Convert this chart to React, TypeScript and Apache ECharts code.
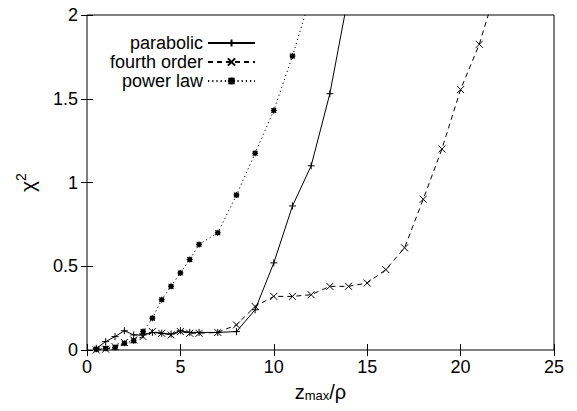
import React, { useEffect, useRef } from "react";
import * as echarts from "echarts";

const parabolicX = [0.5, 1, 1.5, 2, 2.5, 3, 3.5, 4, 4.5, 5, 5.5, 6, 7, 8, 9, 10, 11, 12, 13, 14];
const parabolicY = [0.01, 0.05, 0.08, 0.115, 0.09, 0.09, 0.105, 0.1, 0.095, 0.115, 0.105, 0.105, 0.105, 0.11, 0.24, 0.52, 0.86, 1.1, 1.53, 2.12];

const fourthX = [0.5, 1, 1.5, 2, 2.5, 3, 3.5, 4, 4.5, 5, 5.5, 6, 7, 8, 9, 10, 11, 12, 13, 14, 15, 16, 17, 18, 19, 20, 21, 22];
const fourthY = [0.0, 0.005, 0.02, 0.045, 0.06, 0.08, 0.11, 0.1, 0.09, 0.11, 0.1, 0.1, 0.105, 0.15, 0.26, 0.32, 0.32, 0.33, 0.38, 0.38, 0.4, 0.48, 0.61, 0.9, 1.2, 1.555, 1.825, 2.19];

const powerX = [0.5, 1, 1.5, 2, 2.5, 3, 3.5, 4, 4.5, 5, 5.5, 6, 7, 8, 9, 10, 11, 12];
const powerY = [0.005, 0.01, 0.015, 0.04, 0.055, 0.11, 0.19, 0.3, 0.38, 0.46, 0.54, 0.63, 0.7, 0.925, 1.175, 1.43, 1.755, 2.12];

const seriesNames = ["parabolic", "fourth order", "power law"];
const xTicks = { min: 0, max: 25, interval: 5 };
const yTicks = { min: 0, max: 2, interval: 0.5 };

const zip = (xs: number[], ys: number[]) => xs.map((x, i) => [x, ys[i]]);

const FONT = "Liberation Sans, Arial, Helvetica, sans-serif";

export default function App() {
  const ref = useRef<HTMLDivElement>(null);
  useEffect(() => {
    if (!ref.current) return;
    const chart = echarts.init(ref.current, null, { renderer: "svg" });
    const tickStyle = { inside: true, length: 6, lineStyle: { color: "#000", width: 1 } };
    const mirrorX = {
      type: "value",
      ...xTicks,
      position: "top",
      axisLine: { show: false },
      axisTick: tickStyle,
      axisLabel: { show: false },
      splitLine: { show: false },
    };
    const mirrorY = {
      type: "value",
      ...yTicks,
      position: "right",
      axisLine: { show: false },
      axisTick: tickStyle,
      axisLabel: { show: false },
      splitLine: { show: false },
    };
    const common = {
      type: "line",
      xAxisIndex: 0,
      yAxisIndex: 0,
      symbolSize: 7,
      showAllSymbol: true,
      clip: true,
      itemStyle: { color: "#000", borderColor: "#000", borderWidth: 1 },
    };
    chart.setOption({
      animation: false,
      backgroundColor: "#fff",
      textStyle: { fontFamily: FONT },
      grid: {
        left: 87,
        right: 23,
        top: 15,
        bottom: 61,
        show: true,
        borderColor: "#000",
        borderWidth: 1,
        backgroundColor: "transparent",
      },
      legend: {
        orient: "vertical",
        right: 321,
        top: 34,
        align: "right",
        padding: 0,
        itemWidth: 47,
        itemHeight: 9,
        itemGap: 1,
        textStyle: { fontSize: 18, color: "#000", fontFamily: FONT, lineHeight: 17 },
        data: seriesNames,
      },
      xAxis: [
        {
          type: "value",
          ...xTicks,
          position: "bottom",
          axisLine: { show: false },
          axisTick: tickStyle,
          axisLabel: { fontSize: 18, color: "#000", margin: 8, fontFamily: FONT },
          splitLine: { show: false },
          name: "{a|z}{b|max}{a|/ρ}",
          nameLocation: "middle",
          nameGap: 32,
          nameMoveOverlap: false,
          nameTextStyle: {
            rich: {
              a: { fontSize: 20, color: "#000", fontFamily: FONT, lineHeight: 20, verticalAlign: "top" },
              b: { fontSize: 13, color: "#000", fontFamily: FONT, lineHeight: 18, padding: [6, 0, 0, 0], verticalAlign: "bottom" },
            },
          },
        },
        mirrorX,
      ],
      yAxis: [
        {
          type: "value",
          ...yTicks,
          position: "left",
          axisLine: { show: false },
          axisTick: tickStyle,
          axisLabel: {
            fontSize: 18,
            color: "#000",
            margin: 9,
            fontFamily: FONT,
            formatter: (v: number) => String(v),
          },
          splitLine: { show: false },
          name: "{a|χ}{b|2}",
          nameLocation: "middle",
          nameRotate: 90,
          nameGap: 49,
          nameMoveOverlap: false,
          nameTextStyle: {
            rich: {
              a: { fontSize: 21, color: "#000", fontFamily: FONT, lineHeight: 24, verticalAlign: "bottom" },
              b: { fontSize: 14, color: "#000", fontFamily: FONT, lineHeight: 16, padding: [0, 0, 8, 0], verticalAlign: "top" },
            },
          },
        },
        mirrorY,
      ],
      series: [
        {
          ...common,
          name: seriesNames[0],
          symbol: "path://M0,5L10,5M5,0L5,10",
          lineStyle: { color: "#000", width: 1, type: "solid" },
          data: zip(parabolicX, parabolicY),
        },
        {
          ...common,
          name: seriesNames[1],
          symbol: "path://M0,0L10,10M10,0L0,10",
          lineStyle: { color: "#000", width: 1, type: [5, 4] },
          data: zip(fourthX, fourthY),
        },
        {
          ...common,
          name: seriesNames[2],
          symbolSize: 6,
          symbol: "path://M0,5L10,5M5,0L5,10M1,1L9,9M9,1L1,9M2,2L8,2L8,8L2,8Z",
          itemStyle: { color: "#000", borderColor: "#000", borderWidth: 1.1 },
          lineStyle: { color: "#000", width: 1, type: [1.2, 3] },
          data: zip(powerX, powerY),
        },
      ],
    });
    return () => chart.dispose();
  }, []);
  return (
    <div
      ref={ref}
      style={{ position: "fixed", left: 0, top: 0, width: 577, height: 411, background: "#fff" }}
    />
  );
}
